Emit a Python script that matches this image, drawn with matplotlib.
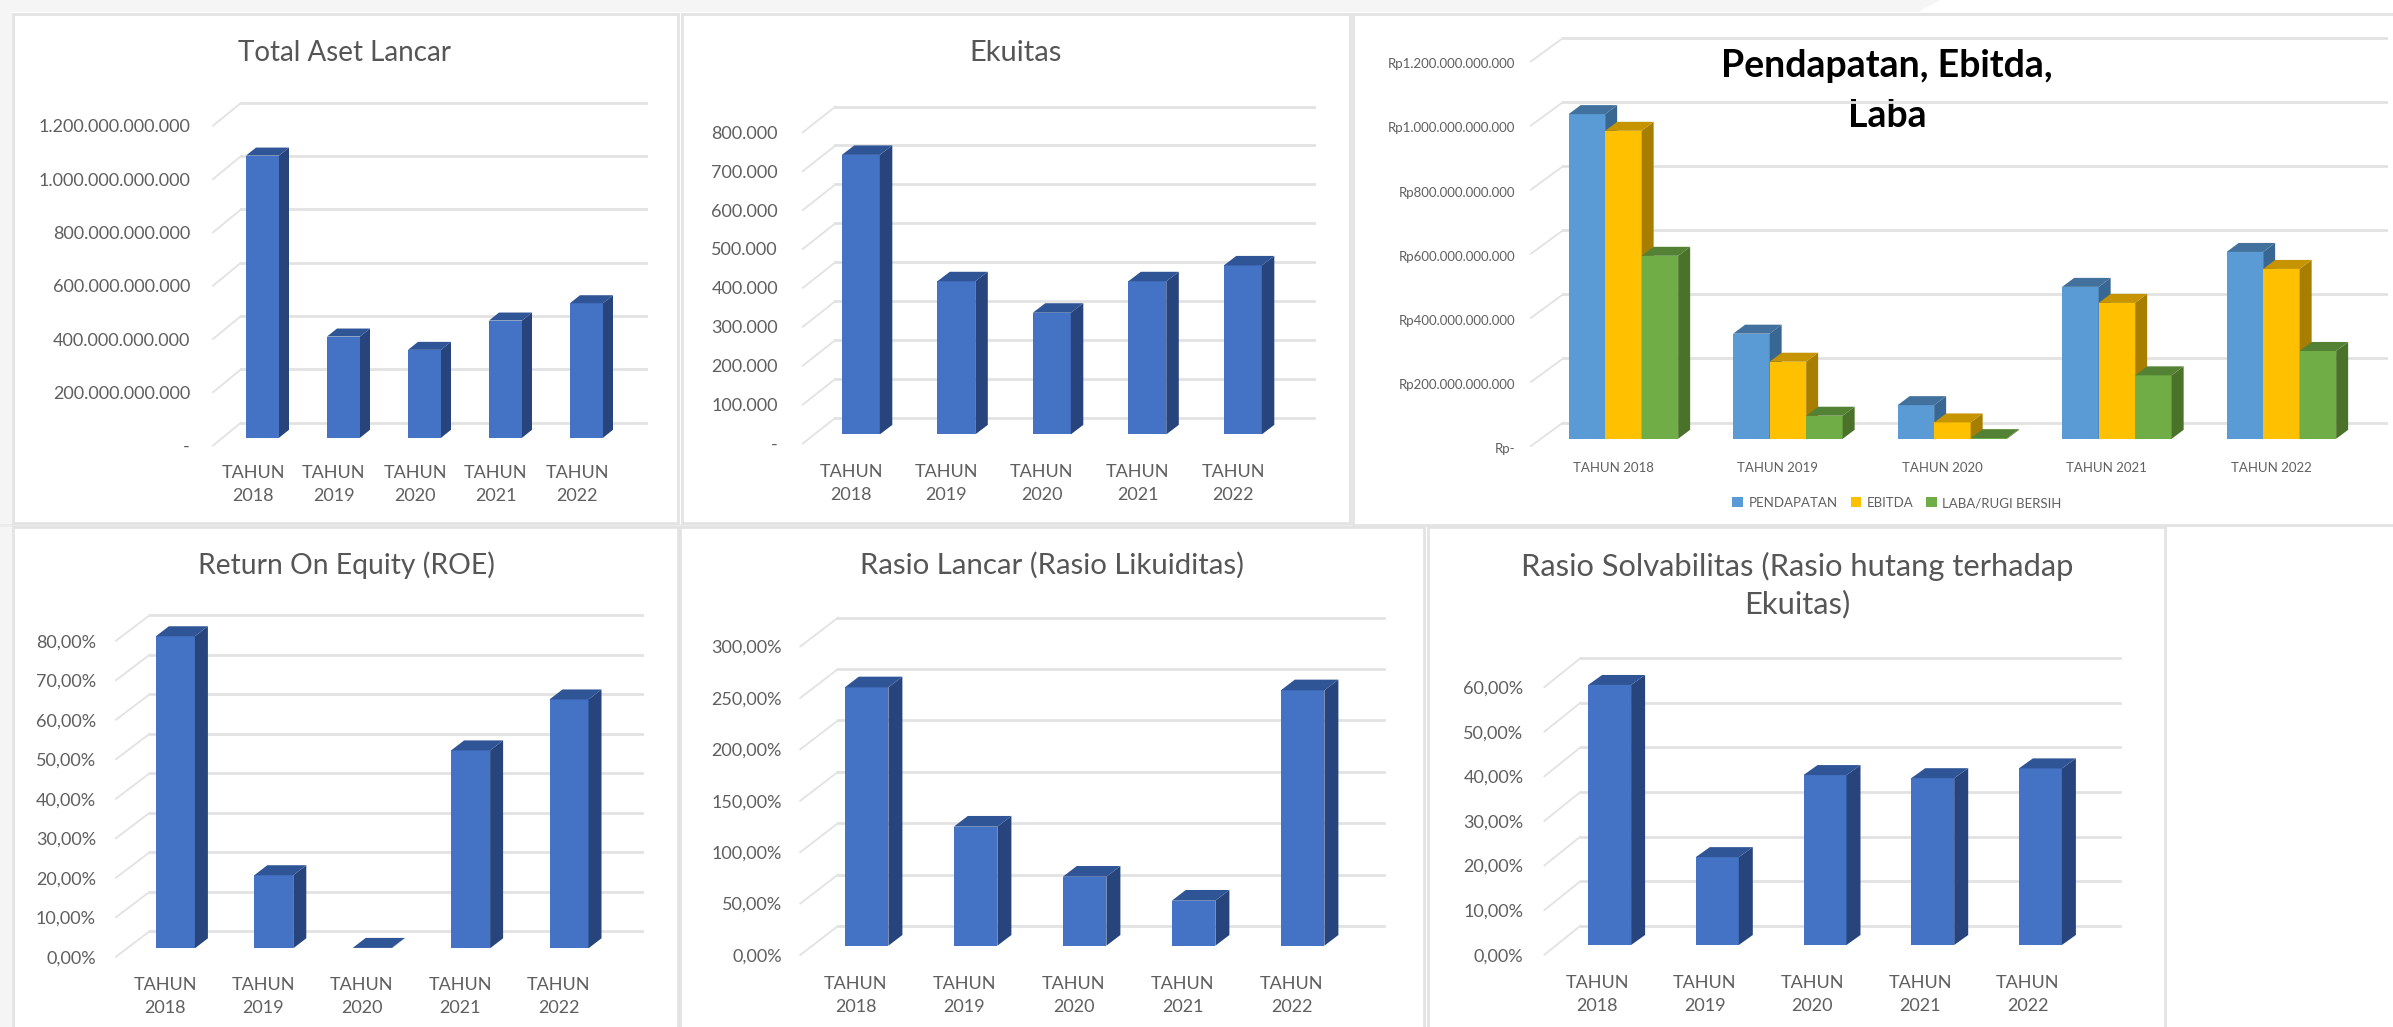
import numpy as np
import matplotlib
matplotlib.use('Agg')
import matplotlib.pyplot as plt
from matplotlib.patches import Polygon, Rectangle

plt.rcParams['font.family'] = ['Lato', 'DejaVu Sans']

WIDTH, HEIGHT = 2393, 1027

years = ['2018', '2019', '2020', '2021', '2022']

# values
total_aset_lancar = [1059e9, 380e9, 330e9, 440e9, 505e9]
ekuitas = [718.5e3, 393.6e3, 312.8e3, 393.6e3, 434.4e3]
pendapatan = [1013e9, 328e9, 105e9, 474e9, 583e9]
ebitda = [961e9, 240.5e9, 51e9, 424e9, 530e9]
laba_bersih = [571e9, 72e9, 2e9, 198e9, 274e9]
roe = [79.0, 18.5, 0.1, 50.1, 63.0]
rasio_lancar = [251.3, 115.8, 67.1, 43.8, 248.4]
rasio_solvabilitas = [58.3, 19.7, 38.1, 37.4, 39.6]

aset_ticks = [0, 200e9, 400e9, 600e9, 800e9, 1000e9, 1200e9]
aset_labels = ['-', '200.000.000.000', '400.000.000.000', '600.000.000.000',
               '800.000.000.000', '1.000.000.000.000', '1.200.000.000.000']
ekuitas_ticks = [0, 100e3, 200e3, 300e3, 400e3, 500e3, 600e3, 700e3, 800e3]
ekuitas_labels = ['-', '100.000', '200.000', '300.000', '400.000', '500.000',
                  '600.000', '700.000', '800.000']
rp_labels = ['Rp-', 'Rp200.000.000.000', 'Rp400.000.000.000', 'Rp600.000.000.000',
             'Rp800.000.000.000', 'Rp1.000.000.000.000', 'Rp1.200.000.000.000']
roe_ticks = [0, 10, 20, 30, 40, 50, 60, 70, 80]
roe_labels = ['0,00%', '10,00%', '20,00%', '30,00%', '40,00%', '50,00%',
              '60,00%', '70,00%', '80,00%']
lancar_ticks = [0, 50, 100, 150, 200, 250, 300]
lancar_labels = ['0,00%', '50,00%', '100,00%', '150,00%', '200,00%', '250,00%', '300,00%']
solv_ticks = [0, 10, 20, 30, 40, 50, 60]
solv_labels = ['0,00%', '10,00%', '20,00%', '30,00%', '40,00%', '50,00%', '60,00%']

# (front, top, side)
BLUE = ('#4472c4', '#2f5597', '#27457c')
SKY = ('#5b9bd5', '#41719c', '#376792')
GOLD = ('#ffc000', '#c59400', '#a87e00')
GREEN = ('#70ad47', '#548235', '#4a7329')
GRID = '#e2e2e2'
TEXT = '#5f5f5f'

fig = plt.figure(figsize=(WIDTH / 100, HEIGHT / 100), dpi=100, facecolor='white')

# page behind the charts, in image pixels
page = fig.add_axes([0, 0, 1, 1])
page.set_xlim(0, WIDTH)
page.set_ylim(HEIGHT, 0)
page.axis('off')
page.add_patch(Polygon([(0, 0), (1940, 0), (1918, 12), (0, 12)], fc='#f5f5f5', ec='none'))
page.add_patch(Rectangle((0, 0), 12, HEIGHT, fc='#f5f5f5', ec='none'))
page.add_patch(Rectangle((0, 524), WIDTH, 3, fc='#ececec', ec='none'))
for x0, y0, x1, y1 in [(13, 14, 678, 523), (682, 14, 1350, 523), (1353, 14, WIDTH + 5, 525),
                       (13, 527, 678, HEIGHT + 5), (680, 527, 1424, HEIGHT + 5),
                       (1428, 527, 2165, HEIGHT + 5)]:
    page.add_patch(Rectangle((x0, y0), x1 - x0, y1 - y0, fc='white', ec='#e3e3e3', lw=2))


def draw_chart(series, colors, names, ticks, tick_labels, step_px, x0, spacing, bar_w, dx, dy,
               base, zero_back, zero_front, x_front, x_back, x_right, tick_right,
               label_x, label_y, size=13, multi_line=True, nudge=0):
    step_val = ticks[1] - ticks[0]
    upp = step_val / step_px  # value per pixel
    drop = (zero_front - base) * upp
    lift = (base - zero_back) * upp
    y_top = zero_back - step_px * (len(ticks) - 1)

    ax = fig.add_axes([x_front / WIDTH, 1 - (zero_front + nudge) / HEIGHT,
                       (x_right - x_front) / WIDTH, (zero_front + nudge - y_top) / HEIGHT])
    ax.patch.set_alpha(0)
    ax.set_xlim((x_front - x0) / spacing, (x_right - x0) / spacing)
    ax.set_ylim(-drop - nudge * upp, (base - y_top) * upp)
    for s in ax.spines.values():
        s.set_visible(False)

    back_x = (x_back - x0) / spacing
    front_x = (x_front - x0) / spacing
    end_x = (x_right - x0) / spacing
    for v in ticks:
        ax.plot([front_x, back_x], [v - drop, v + lift], color=GRID, lw=1.3, zorder=1, clip_on=False)
        ax.plot([back_x, end_x], [v + lift, v + lift], color=GRID, lw=2, zorder=1, clip_on=False)

    x = np.arange(len(years))
    w = bar_w / spacing
    ddx = dx / spacing
    ddy = dy * upp
    for j, (values, col) in enumerate(zip(series, colors)):
        pos = x + (j - (len(series) - 1) / 2) * w
        ax.bar(pos, values, width=w, color=col[0], zorder=3 + j, label=names[j] if names else None)
        for p, v in zip(pos, values):
            xl, xr = p - w / 2, p + w / 2
            ax.add_patch(Polygon([(xr, 0), (xr + ddx, ddy), (xr + ddx, v + ddy), (xr, v)],
                                 fc=col[2], ec='none', zorder=3 + j, clip_on=False))
            ax.add_patch(Polygon([(xl, v), (xl + ddx, v + ddy), (xr + ddx, v + ddy), (xr, v)],
                                 fc=col[1], ec='none', zorder=3 + j, clip_on=False))

    ax.set_yticks(np.array(ticks) - drop - nudge * upp)
    ax.set_yticklabels(tick_labels, fontsize=size, color=TEXT)
    ax.tick_params(axis='y', length=0, pad=(x_front - tick_right) * 0.72)

    shift = (label_x - x0) / spacing
    ax.set_xticks(x + shift)
    sep = '\n' if multi_line else ' '
    ax.set_xticklabels(['TAHUN' + sep + y for y in years], fontsize=size, color=TEXT, linespacing=1.55)
    extra = 4 if multi_line else 2 - nudge
    ax.tick_params(axis='x', length=0, pad=(label_y - zero_front - size * 0.72 + extra) * 0.72)
    return ax


def title(text, x, y, size=20, spacing=1.3, **kw):
    page.text(x, y, text, ha='center', va='center', fontsize=size, color=kw.pop('color', '#565656'),
              linespacing=spacing, **kw)


# Total Aset Lancar
draw_chart([total_aset_lancar], [BLUE], None, aset_ticks, aset_labels, 53.3,
           262.5, 81, 33, 10, 8, 437.8, 422.6, 445.6, 213, 241, 646, 190, 253, 470.6)
title('Total Aset Lancar', 345, 53)

# Ekuitas
draw_chart([ekuitas], [BLUE], None, ekuitas_ticks, ekuitas_labels, 38.9,
           860.8, 95.5, 38, 12.5, 9.5, 434.4, 417.8, 443.5, 802.8, 835.4, 1314, 778, 851, 469)
title('Ekuitas', 1016, 53, size=21)

# Pendapatan, Ebitda, Laba
ax3 = draw_chart([pendapatan, ebitda, laba_bersih], [SKY, GOLD, GREEN],
                 ['PENDAPATAN', 'EBITDA', 'LABA/RUGI BERSIH'], aset_ticks, rp_labels, 64.1,
                 1623.4, 164.5, 36.5, 12, 9, 438.8, 422.6, 446, 1531, 1563, 2386, 1515, 1613, 466.5,
                 size=9.5, multi_line=False, nudge=2)
ax3.legend(loc='center', bbox_to_anchor=(1897 / WIDTH, 1 - 503 / HEIGHT), bbox_transform=fig.transFigure,
           ncol=3, frameon=False, fontsize=9.5, labelcolor=TEXT, handlelength=0.8, handleheight=0.8,
           handletextpad=0.4, columnspacing=1.0)
title('Pendapatan, Ebitda,\nLaba', 1887, 91, size=27, spacing=1.55, color='black', fontweight='bold')

# Return On Equity (ROE)
draw_chart([roe], [BLUE], None, roe_ticks, roe_labels, 39.5,
           175.4, 98.4, 39, 13, 10, 948.3, 931.3, 956.7, 116, 149.6, 642, 96, 165, 982.7)
title('Return On Equity (ROE)', 346, 565, size=20.3)

# Rasio Lancar (Rasio Likuiditas)
draw_chart([rasio_lancar], [BLUE], None, lancar_ticks, lancar_labels, 51.4,
           866.6, 109, 43.6, 14, 10.7, 945.7, 926, 955, 800.2, 838, 1383.8, 781.8, 855.5, 981)
title('Rasio Lancar (Rasio Likuiditas)', 1052, 565, size=21.2)

# Rasio Solvabilitas
draw_chart([rasio_solvabilitas], [BLUE], None, solv_ticks, solv_labels, 44.6,
           1609.6, 107.7, 43, 14, 10, 945, 925.7, 954.7, 1544.4, 1580.5, 2120, 1523.5, 1597, 980.7)
title('Rasio Solvabilitas (Rasio hutang terhadap\nEkuitas)', 1797, 585, size=22.2, spacing=1.36)

fig.savefig('out.png', dpi=100)
